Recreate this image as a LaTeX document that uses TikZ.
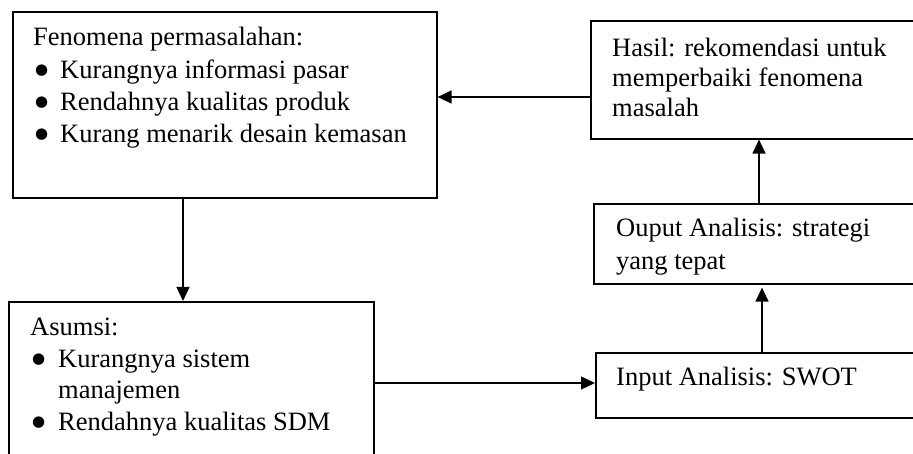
\documentclass[tikz,border=0pt]{standalone}
\usepackage{fontspec}
\setmainfont{Liberation Serif}
\newfontfamily\bulfont{DejaVu Sans}
\usetikzlibrary{arrows.meta}
\begin{document}
\begin{tikzpicture}[x=1pt,y=-1pt,
  box/.style={draw, line width=1.6pt, rectangle, inner sep=0pt, anchor=north west},
  txt/.style={anchor=base west, inner sep=0pt, font=\fontsize{26.5}{32}\selectfont},
  bul/.style={anchor=base west, inner sep=0pt, font=\bulfont\fontsize{15}{18}\selectfont},
  conn/.style={line width=1.3pt, -{Triangle[length=14pt,width=13pt]}}]
\useasboundingbox (0,0) rectangle (913,454);
\clip (0,0) rectangle (913,454);
% boxes
\node[box, minimum width=424pt, minimum height=186pt] (fen) at (12,11) {};
\node[box, minimum width=360pt, minimum height=118pt] (hasil) at (590,20) {};
\node[box, minimum width=360pt, minimum height=80pt] (ouput) at (593,203) {};
\node[box, minimum width=360pt, minimum height=65pt] (input) at (595,352) {};
\node[box, minimum width=365pt, minimum height=200pt] (asumsi) at (8,301) {};
% texts: Fenomena
\node[txt] (f0) at (33,46) {Fenomena permasalahan:};
\node[bul] (f1b) at (35,75) {●};
\node[txt] (f1) at (60,79) {Kurangnya informasi pasar};
\node[bul] (f2b) at (35,107) {●};
\node[txt] (f2) at (60,111) {Rendahnya kualitas produk};
\node[bul] (f3b) at (35,139) {●};
\node[txt] (f3) at (60,143) {Kurang menarik desain kemasan};
% Hasil
\node[txt] (h0) at (612,57) {Hasil: rekomendasi untuk};
\node[txt] (h1t) at (612,87) {memperbaiki fenomena};
\node[txt] (h2t) at (612,117) {masalah};
% Ouput
\node[txt] (o0) at (616,237) {Ouput Analisis: strategi};
\node[txt] (o1) at (616,270) {yang tepat};
% Input
\node[txt] (i0) at (616,385) {Input Analisis: SWOT};
% Asumsi
\node[txt] (a0) at (30,335) {Asumsi:};
\node[bul] (a1b) at (32,363) {●};
\node[txt] (a1) at (58,367) {Kurangnya sistem};
\node[txt] (a2) at (58,398) {manajemen};
\node[bul] (a3b) at (32,426) {●};
\node[txt] (a3) at (58,430) {Rendahnya kualitas SDM};
% connectors
\coordinate (hy1) at (0,97);
\coordinate (vx1) at (183,0);
\coordinate (hy2) at (0,383);
\coordinate (vx2) at (762,0);
\coordinate (vx3) at (759,0);
\draw[conn] (hasil.west |- hy1) -- (fen.east |- hy1);
\draw[conn] (fen.south -| vx1) -- (asumsi.north -| vx1);
\draw[conn] (asumsi.east |- hy2) -- (input.west |- hy2);
\draw[conn, shorten >=3pt] (input.north -| vx2) -- (ouput.south -| vx2);
\draw[conn] (ouput.north -| vx3) -- (hasil.south -| vx3);
\end{tikzpicture}
\end{document}
